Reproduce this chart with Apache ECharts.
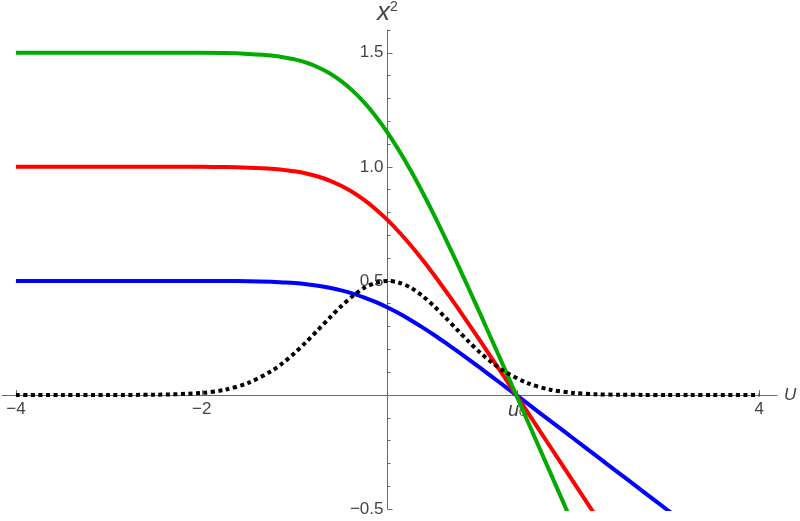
<!DOCTYPE html>
<html>
<head>
<meta charset="utf-8">
<script src="https://cdn.jsdelivr.net/npm/echarts@6/dist/echarts.min.js"></script>
<style>
html, body { margin: 0; padding: 0; background: #fff; }
#chart { width: 800px; height: 521px; }
</style>
</head>
<body>
<div id="chart"></div>
<script>
const uVals = [-4, -3.5, -3, -2.5, -2, -1.75, -1.5, -1.25, -1.125, -1, -0.875, -0.75, -0.625,
    -0.5, -0.375, -0.25, -0.125, 0, 0.125, 0.25, 0.375, 0.5, 0.625, 0.75, 0.875, 1, 1.125,
    1.25, 1.5, 1.75, 2, 2.25, 2.5, 2.75, 3, 3.25, 3.5, 4]

// x^2 curves (each stops just past the bottom of the plot)
const greenVals = [1.5, 1.5, 1.5, 1.5, 1.5, 1.4988, 1.4949, 1.4883, 1.4802, 1.4711, 1.4568,
    1.4367, 1.4102, 1.3758, 1.3332, 1.2813, 1.22, 1.1495, 1.0701, 0.983, 0.8886, 0.7887,
    0.6836, 0.5756, 0.4647, 0.3519, 0.2378, 0.123, -0.1086, -0.3407, -0.573]
const redVals = [1, 1, 1, 1, 1, 0.9992, 0.9966, 0.9922, 0.9868, 0.9807, 0.9712, 0.9578,
    0.9401, 0.9172, 0.8888, 0.8542, 0.8133, 0.7663, 0.7134, 0.6553, 0.5924, 0.5258, 0.4557,
    0.3837, 0.3098, 0.2346, 0.1585, 0.082, -0.0724, -0.2271, -0.382, -0.537]
const blueVals = [0.5, 0.5, 0.5, 0.5, 0.5, 0.4996, 0.4983, 0.4961, 0.4934, 0.4904, 0.4856,
    0.4789, 0.4701, 0.4586, 0.4444, 0.4271, 0.4067, 0.3832, 0.3567, 0.3277, 0.2962, 0.2629,
    0.2279, 0.1919, 0.1549, 0.1173, 0.0793, 0.041, -0.0362, -0.1136, -0.191, -0.2685, -0.346,
    -0.4235, -0.501, -0.5785]
// dotted bump
const dotVals = [0, 0, 0.0001, 0.001, 0.009, 0.023, 0.053, 0.105, 0.141, 0.184, 0.233, 0.285,
    0.338, 0.389, 0.434, 0.47, 0.492, 0.5, 0.492, 0.47, 0.434, 0.389, 0.338, 0.285, 0.233,
    0.184, 0.141, 0.105, 0.053, 0.023, 0.009, 0.003, 0.001, 0.0003, 0.0001, 0, 0, 0]

const U0 = 1.39
const xTicks = [-4, -2, U0, 4]
const yMajorTicks = [-0.5, 0.5, 1.0, 1.5]
const yMinorTicks = [-0.4, -0.3, -0.2, -0.1, 0.1, 0.2, 0.3, 0.4, 0.6, 0.7, 0.8, 0.9,
    1.1, 1.2, 1.3, 1.4, 1.6]

const axisGray = '#6b6b6b'
const labelGray = '#444'
const font = 'Liberation Sans'

function toPairs(vals) {
    return vals.map((v, i) => [uVals[i], v])
}

function curve(name, vals, color, extra) {
    return Object.assign({
        name: name,
        type: 'line',
        data: toPairs(vals),
        showSymbol: false,
        smooth: 0.3,
        lineStyle: { color: color, width: 4 },
        emphasis: { disabled: true }
    }, extra || {})
}

let myChart = echarts.init(document.getElementById('chart'))
let option = {
    animation: false,
    grid: { left: 2, right: 23, top: 30, bottom: 12, containLabel: false, outerBoundsMode: 'none' },
    xAxis: {
        type: 'value',
        position: 'bottom',
        offset: -114,
        min: -4.15,
        max: 4.19,
        name: 'U',
        nameLocation: 'end',
        nameGap: 7,
        nameTextStyle: { fontFamily: font, fontSize: 17, fontStyle: 'italic', color: labelGray, verticalAlign: 'middle' },
        axisLine: { onZero: false, lineStyle: { color: axisGray, width: 1 } },
        axisTick: { customValues: xTicks, inside: true, length: 5, lineStyle: { color: axisGray } },
        axisLabel: {
            customValues: xTicks,
            margin: 6,
            fontFamily: font,
            fontSize: 17,
            color: labelGray,
            formatter: v => Math.abs(v - U0) < 1e-6 ? '{u|u}{s|0}' : String(v).replace('-', '\u2212'),
            rich: {
                u: { fontFamily: font, fontSize: 20, fontStyle: 'italic', color: labelGray, lineHeight: 18 },
                s: { fontFamily: font, fontSize: 12, color: labelGray, verticalAlign: 'bottom', lineHeight: 18 }
            }
        },
        splitLine: { show: false }
    },
    yAxis: [
        {
            type: 'value',
            position: 'left',
            offset: -385.5,
            min: -0.5,
            max: 1.6,
            name: '{x|x}{s|2}',
            nameLocation: 'end',
            nameGap: 4,
            nameTextStyle: {
                color: labelGray,
                rich: {
                    x: { fontFamily: font, fontSize: 26, fontStyle: 'italic', color: labelGray },
                    s: { fontFamily: font, fontSize: 14, color: labelGray, verticalAlign: 'top' }
                }
            },
            axisLine: { onZero: false, lineStyle: { color: axisGray, width: 1 } },
            axisTick: { customValues: yMajorTicks, inside: true, length: 5, lineStyle: { color: axisGray } },
            axisLabel: {
                customValues: yMajorTicks,
                margin: 4,
                fontFamily: font,
                fontSize: 17,
                color: labelGray,
                formatter: v => v.toFixed(1).replace('-', '\u2212')
            },
            splitLine: { show: false }
        },
        {
            // minor ticks only
            type: 'value',
            position: 'left',
            offset: -385.5,
            min: -0.5,
            max: 1.6,
            axisLine: { show: false, onZero: false },
            axisTick: { customValues: yMinorTicks, inside: true, length: 3, lineStyle: { color: axisGray } },
            axisLabel: { show: false },
            splitLine: { show: false }
        }
    ],
    series: [
        curve('blue', blueVals, '#0000ff'),
        curve('red', redVals, '#ff0000'),
        curve('green', greenVals, '#00aa00'),
        curve('dotted', dotVals, '#000000', {
            lineStyle: { color: '#000000', width: 4, type: [4, 3.5], cap: 'butt' }
        })
    ]
}
myChart.setOption(option)
</script>
</body>
</html>
